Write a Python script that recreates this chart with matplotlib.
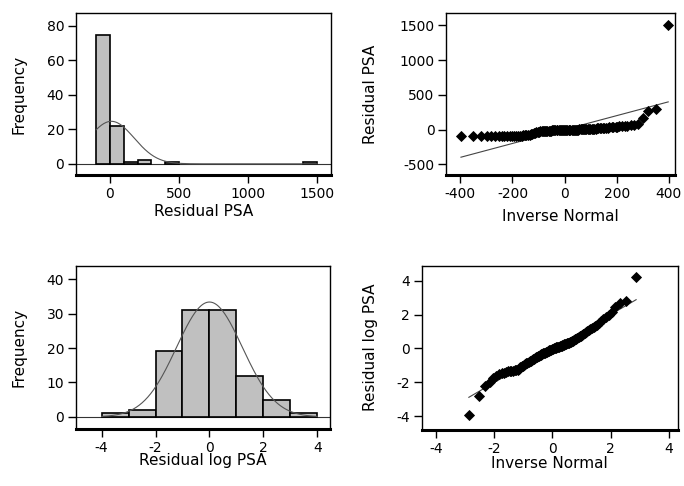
import matplotlib
matplotlib.use('Agg')
import matplotlib.pyplot as plt
import numpy as np

plt.rcParams['font.family'] = 'DejaVu Sans'
plt.rcParams['axes.unicode_minus'] = False

# histogram of residual PSA (bin width 100)
psa_bin_left = [-100, 0, 100, 200, 400, 1400]
psa_counts = [75, 22, 1, 2, 1, 1]
psa_bin_width = 100
psa_mean, psa_sd = 10, 165

# histogram of residual log PSA (bin width 1)
log_bin_left = [-4, -3, -2, -1, 0, 1, 2, 3]
log_counts = [1, 2, 19, 31, 31, 12, 5, 1]
log_bin_width = 1
log_mean, log_sd = 0, 1.22

# normal scores used for the "Inverse Normal" axis of both QQ plots
normal_scores = [
    -2.34, -2.07, -1.89, -1.76, -1.66, -1.57, -1.49, -1.42, -1.36, -1.30,
    -1.24, -1.19, -1.15, -1.10, -1.06, -1.01, -0.97, -0.94, -0.90, -0.86,
    -0.83, -0.79, -0.76, -0.73, -0.70, -0.67, -0.64, -0.61, -0.58, -0.55,
    -0.52, -0.49, -0.47, -0.44, -0.41, -0.39, -0.36, -0.33, -0.31, -0.28,
    -0.26, -0.23, -0.21, -0.18, -0.16, -0.13, -0.11, -0.09, -0.06, -0.04,
    -0.01, 0.01, 0.04, 0.06, 0.09, 0.11, 0.13, 0.16, 0.18, 0.21,
    0.23, 0.26, 0.28, 0.31, 0.33, 0.36, 0.39, 0.41, 0.44, 0.47,
    0.49, 0.52, 0.55, 0.58, 0.61, 0.64, 0.67, 0.70, 0.73, 0.76,
    0.79, 0.83, 0.86, 0.90, 0.94, 0.97, 1.01, 1.06, 1.10, 1.15,
    1.19, 1.24, 1.30, 1.36, 1.42, 1.49, 1.57, 1.66, 1.76, 1.89,
    2.07, 2.34]
psa_qq_sd = 170
log_qq_sd = 1.23

# sorted residuals
psa_sorted = [
    -98, -96, -95, -95, -94, -94, -93, -93, -92, -92,
    -91, -90, -90, -89, -88, -87, -86, -84, -82, -80,
    -77, -73, -68, -62, -55, -47, -40, -34, -29, -25,
    -22, -20, -19, -18, -17, -16, -15, -15, -14, -13,
    -13, -12, -12, -11, -10, -10, -9, -9, -8, -8,
    -7, -7, -6, -6, -5, -5, -4, -4, -3, -3,
    -2, -2, -1, 0, 1, 2, 3, 4, 5, 6,
    7, 8, 9, 10, 11, 12, 13, 15, 16, 18,
    19, 21, 22, 24, 26, 28, 30, 32, 35, 38,
    41, 44, 48, 52, 56, 61, 68, 80, 165, 262,
    292, 1505]
log_sorted = [
    -3.95, -2.80, -2.20, -1.95, -1.75, -1.60, -1.52, -1.46, -1.42, -1.38,
    -1.35, -1.33, -1.31, -1.30, -1.29, -1.27, -1.24, -1.18, -1.12, -1.06,
    -1.01, -0.96, -0.92, -0.88, -0.84, -0.80, -0.75, -0.71, -0.67, -0.63,
    -0.59, -0.55, -0.51, -0.48, -0.45, -0.42, -0.39, -0.36, -0.33, -0.30,
    -0.28, -0.26, -0.24, -0.21, -0.19, -0.16, -0.14, -0.11, -0.09, -0.07,
    -0.04, -0.02, 0.00, 0.02, 0.04, 0.06, 0.07, 0.09, 0.11, 0.13,
    0.15, 0.17, 0.19, 0.22, 0.24, 0.27, 0.29, 0.31, 0.33, 0.35,
    0.38, 0.40, 0.43, 0.45, 0.50, 0.54, 0.58, 0.62, 0.66, 0.71,
    0.76, 0.82, 0.87, 0.92, 0.97, 1.02, 1.08, 1.14, 1.20, 1.27,
    1.34, 1.41, 1.50, 1.60, 1.72, 1.83, 1.98, 2.18, 2.45, 2.68,
    2.82, 4.20]


def style(ax):
    for s in ['top', 'right', 'left']:
        ax.spines[s].set_linewidth(1.0)
    ax.spines['bottom'].set_linewidth(2.2)
    ax.tick_params(axis='both', direction='out', length=5.5, width=1.0,
                   labelsize=10, pad=3)


def histogram(ax, left, counts, width, mean, sd, xlabel):
    ax.bar(left, counts, width=width, align='edge', color='#c0c0c0',
           edgecolor='black', linewidth=1.2, zorder=2)
    ax.axhline(0, color='#333333', linewidth=0.8, zorder=1)
    n = sum(counts)
    xs = np.linspace(left[0], left[-1] + width, 300)
    ys = n * width / (sd * np.sqrt(2 * np.pi)) * np.exp(-0.5 * ((xs - mean) / sd) ** 2)
    ax.plot(xs, ys, color='#555555', linewidth=0.8, zorder=3)
    ax.set_xlabel(xlabel, fontsize=11, va='center')
    ax.set_ylabel('Frequency', fontsize=11, va='center')
    style(ax)


def qqplot(ax, z, sd, values, ylabel):
    qx = [sd * v for v in z]
    ax.plot([qx[0], qx[-1]], [qx[0], qx[-1]], color='#444444', linewidth=0.8, zorder=1)
    ax.plot(qx, values, linestyle='none', marker='D', markersize=5.0,
            color='black', markeredgewidth=0.6, zorder=2)
    ax.set_xlabel('Inverse Normal', fontsize=11, va='center')
    ax.set_ylabel(ylabel, fontsize=11, va='center')
    style(ax)


fig = plt.figure(figsize=(6.84, 4.86), dpi=100)

ax1 = fig.add_axes([0.1111, 0.6399, 0.3728, 0.3333])
histogram(ax1, psa_bin_left, psa_counts, psa_bin_width, psa_mean, psa_sd, 'Residual PSA')
ax1.set_xlim(-246, 1600)
ax1.set_ylim(-6.5, 87.5)
ax1.set_xticks([0, 500, 1000, 1500])
ax1.set_yticks([0, 20, 40, 60, 80])
ax1.xaxis.set_label_coords(0.5, -0.228)
ax1.yaxis.set_label_coords(-0.2235, 0.5)

ax2 = fig.add_axes([0.6525, 0.6399, 0.3344, 0.3327])
qqplot(ax2, normal_scores, psa_qq_sd, psa_sorted, 'Residual PSA')
ax2.set_xlim(-454, 424)
ax2.set_ylim(-654, 1672)
ax2.set_xticks([-400, -200, 0, 200, 400])
ax2.set_yticks([-500, 0, 500, 1000, 1500])
ax2.xaxis.set_label_coords(0.5, -0.257)
ax2.yaxis.set_label_coords(-0.331, 0.5)

ax3 = fig.add_axes([0.1111, 0.1173, 0.3713, 0.336])
histogram(ax3, log_bin_left, log_counts, log_bin_width, log_mean, log_sd, 'Residual log PSA')
ax3.set_xlim(-4.95, 4.47)
ax3.set_ylim(-3.5, 43.9)
ax3.set_xticks([-4, -2, 0, 2, 4])
ax3.set_yticks([0, 10, 20, 30, 40])
ax3.xaxis.set_label_coords(0.5, -0.196)
ax3.yaxis.set_label_coords(-0.226, 0.5)

ax4 = fig.add_axes([0.617, 0.1158, 0.3738, 0.3374])
qqplot(ax4, normal_scores, log_qq_sd, log_sorted, 'Residual log PSA')
ax4.set_xlim(-4.49, 4.31)
ax4.set_ylim(-4.79, 4.88)
ax4.set_xticks([-4, -2, 0, 2, 4])
ax4.set_yticks([-4, -2, 0, 2, 4])
ax4.xaxis.set_label_coords(0.5, -0.203)
ax4.yaxis.set_label_coords(-0.201, 0.5)

fig.savefig('out.png', dpi=100)
